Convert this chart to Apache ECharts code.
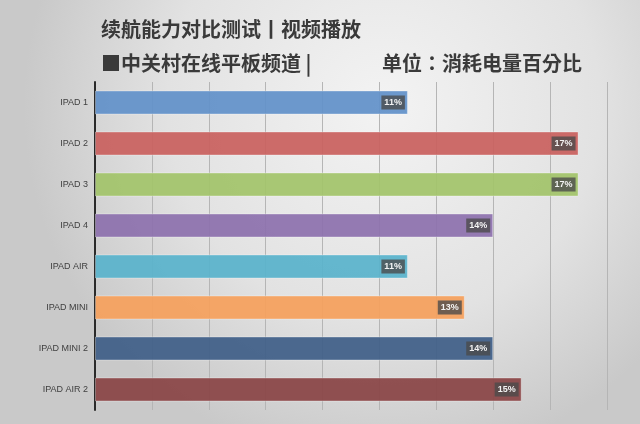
<!DOCTYPE html>
<html>
<head>
<meta charset="utf-8">
<script src="https://cdn.jsdelivr.net/npm/echarts@6/dist/echarts.min.js"></script>
<style>
html,body{margin:0;padding:0;background:#d0d0d0;}
#c{width:640px;height:424px;}
</style>
</head>
<body>
<div id="c"></div>
<script>
const categories = ['IPAD 1','IPAD 2','IPAD 3','IPAD 4','IPAD AIR','IPAD MINI','IPAD MINI 2','IPAD AIR 2'];
const values = [11, 17, 17, 14, 11, 13, 14, 15];
const titleMain = '续航能力对比测试丨视频播放';
const titleSource = '■中关村在线平板频道 |';
const titleUnit = '单位：消耗电量百分比';

const palette = ['#6291c9','#c9615f','#a3c46a','#8d71ad','#59b3cb','#f5a05c','#3f5f88','#8a4546'];

const chart = echarts.init(document.getElementById('c'));
const titleStyle = {fontFamily:'Noto Sans CJK SC', fontWeight:'bold', fontSize:20, color:'#3a3a3a'};
chart.setOption({
  backgroundColor: {
    type:'radial', x:0.6, y:0.25, r:0.85,
    colorStops:[{offset:0,color:'#f3f3f3'},{offset:0.6,color:'#e2e2e2'},{offset:1,color:'#c9c9c9'}]
  },
  title: [
    {text:titleMain, left:96, top:14, textStyle:titleStyle},
    {text:titleSource, left:96, top:48, textStyle:titleStyle},
    {text:titleUnit, left:377, top:48, textStyle:Object.assign({}, titleStyle, {fontFamily:'Noto Sans CJK TC'})}
  ],
  grid: {left:95, right:33, top:82, bottom:14, containLabel:false},
  xAxis: {
    type:'value', min:0, max:18, interval:2,
    axisLabel:{show:false}, axisTick:{show:false}, axisLine:{show:false},
    splitLine:{show:true, lineStyle:{color:'#b5b5b5', width:1}}
  },
  yAxis: {
    type:'category', data:categories, inverse:true,
    axisTick:{show:false},
    axisLine:{show:true, lineStyle:{color:'#2a2a2a', width:2}},
    axisLabel:{fontFamily:'Liberation Sans', fontSize:9, color:'#404040', margin:7}
  },
  series: [{
    type:'bar',
    data: values.map((v,i)=>({value:v, itemStyle:{color:palette[i]}})),
    barWidth:24,
    itemStyle:{opacity:0.93, borderColor:'rgba(255,255,255,0.35)', borderWidth:1},
    label:{
      show:true, position:'insideRight', distance:3,
      formatter:'{c}%',
      color:'#ffffff', fontWeight:'bold', fontSize:9, fontFamily:'Liberation Sans',
      backgroundColor:'rgba(75,75,75,0.85)', padding:[3,3,2,3]
    }
  }]
});
</script>
</body>
</html>
